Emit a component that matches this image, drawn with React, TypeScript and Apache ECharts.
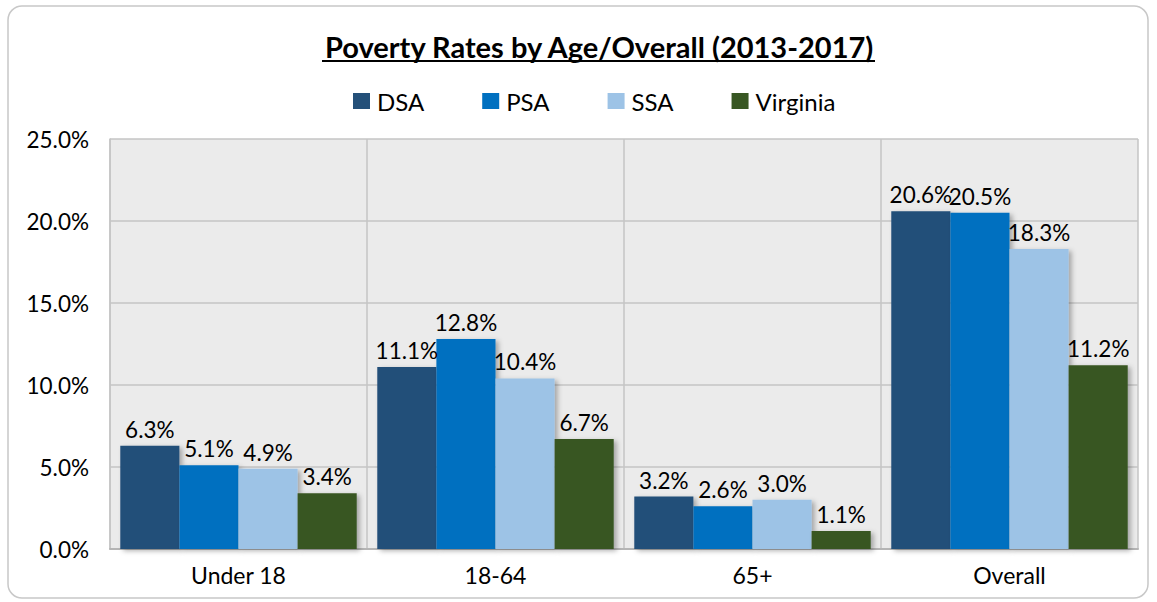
import React, { useEffect, useRef } from "react";
import * as echarts from "echarts";

const categories = ["Under 18", "18-64", "65+", "Overall"];
const seriesNames = ["DSA", "PSA", "SSA", "Virginia"];
const dsa = [6.3, 11.1, 3.2, 20.6];
const psa = [5.1, 12.8, 2.6, 20.5];
const ssa = [4.9, 10.4, 3.0, 18.3];
const virginia = [3.4, 6.7, 1.1, 11.2];
const colors = ["#245079", "#0070C0", "#9DC3E6", "#385723"];
const yTicks = { min: 0, max: 25, interval: 5 };

const FONT = "Lato, 'Noto Sans', sans-serif";

export default function App() {
  const ref = useRef<HTMLDivElement>(null);
  useEffect(() => {
    if (!ref.current) return;
    const chart = echarts.init(ref.current, null, { renderer: "svg" });
    const values = [dsa, psa, ssa, virginia];
    chart.setOption({
      animation: false,
      backgroundColor: "#fff",
      textStyle: { fontFamily: FONT },
      title: {
        text: "Poverty Rates by Age/Overall (2013-2017)",
        left: 320,
        top: 27,
        textStyle: { fontFamily: FONT, fontSize: 29, fontWeight: "bold", color: "#000" },
      },
      legend: {
        data: seriesNames,
        top: 84,
        left: 348,
        itemWidth: 17,
        itemHeight: 16,
        itemGap: 58,
        icon: "rect",
        textStyle: { fontFamily: FONT, fontSize: 24, color: "#000", padding: [0, 0, 0, 2] },
      },
      graphic: [
        {
          type: "rect",
          shape: { x: 8, y: 6, width: 1140, height: 592, r: 14 },
          style: { fill: "none", stroke: "#c8c8c8", lineWidth: 1.5 },
          z: -1,
        },
        {
          type: "line",
          shape: { x1: 322, y1: 61, x2: 875, y2: 61 },
          style: { stroke: "#000", lineWidth: 2.2 },
        },
      ],
      grid: {
        left: 110,
        right: 19,
        top: 139,
        bottom: 53,
        show: true,
        backgroundColor: "#EBEBEB",
        borderColor: "#EBEBEB",
        borderWidth: 0,
      },
      xAxis: {
        type: "category",
        data: categories,
        axisLine: { show: true, lineStyle: { color: "#b5b5b5", width: 2 } },
        axisTick: { show: false },
        splitLine: { show: true, lineStyle: { color: "#c4c4c4", width: 1.5 } },
        axisLabel: { fontFamily: FONT, fontSize: 23, color: "#000", margin: 14 },
      },
      yAxis: {
        type: "value",
        min: yTicks.min,
        max: yTicks.max,
        interval: yTicks.interval,
        axisLine: { show: true, lineStyle: { color: "#c4c4c4", width: 1.5 } },
        axisTick: { show: false },
        splitLine: { show: true, lineStyle: { color: "#c4c4c4", width: 1.5 } },
        axisLabel: {
          fontFamily: FONT,
          fontSize: 22.5,
          color: "#000",
          margin: 21,
          formatter: (v: number) => v.toFixed(1) + "%",
        },
      },
      series: seriesNames.map((name, i) => ({
        name,
        type: "bar",
        data: values[i],
        barGap: "0%",
        barCategoryGap: "8%",
        itemStyle: {
          color: colors[i],
          shadowBlur: 5,
          shadowOffsetX: 3,
          shadowOffsetY: 2,
          shadowColor: "rgba(0,0,0,0.3)",
        },
        label: {
          show: true,
          position: "top",
          distance: 5,
          fontFamily: FONT,
          fontSize: 22.5,
          color: "#000",
          formatter: (p: any) => Number(p.value).toFixed(1) + "%",
        },
      })),
    });
    return () => chart.dispose();
  }, []);
  return (
    <div
      ref={ref}
      style={{ position: "fixed", left: 0, top: 0, width: 1157, height: 602 }}
    />
  );
}
